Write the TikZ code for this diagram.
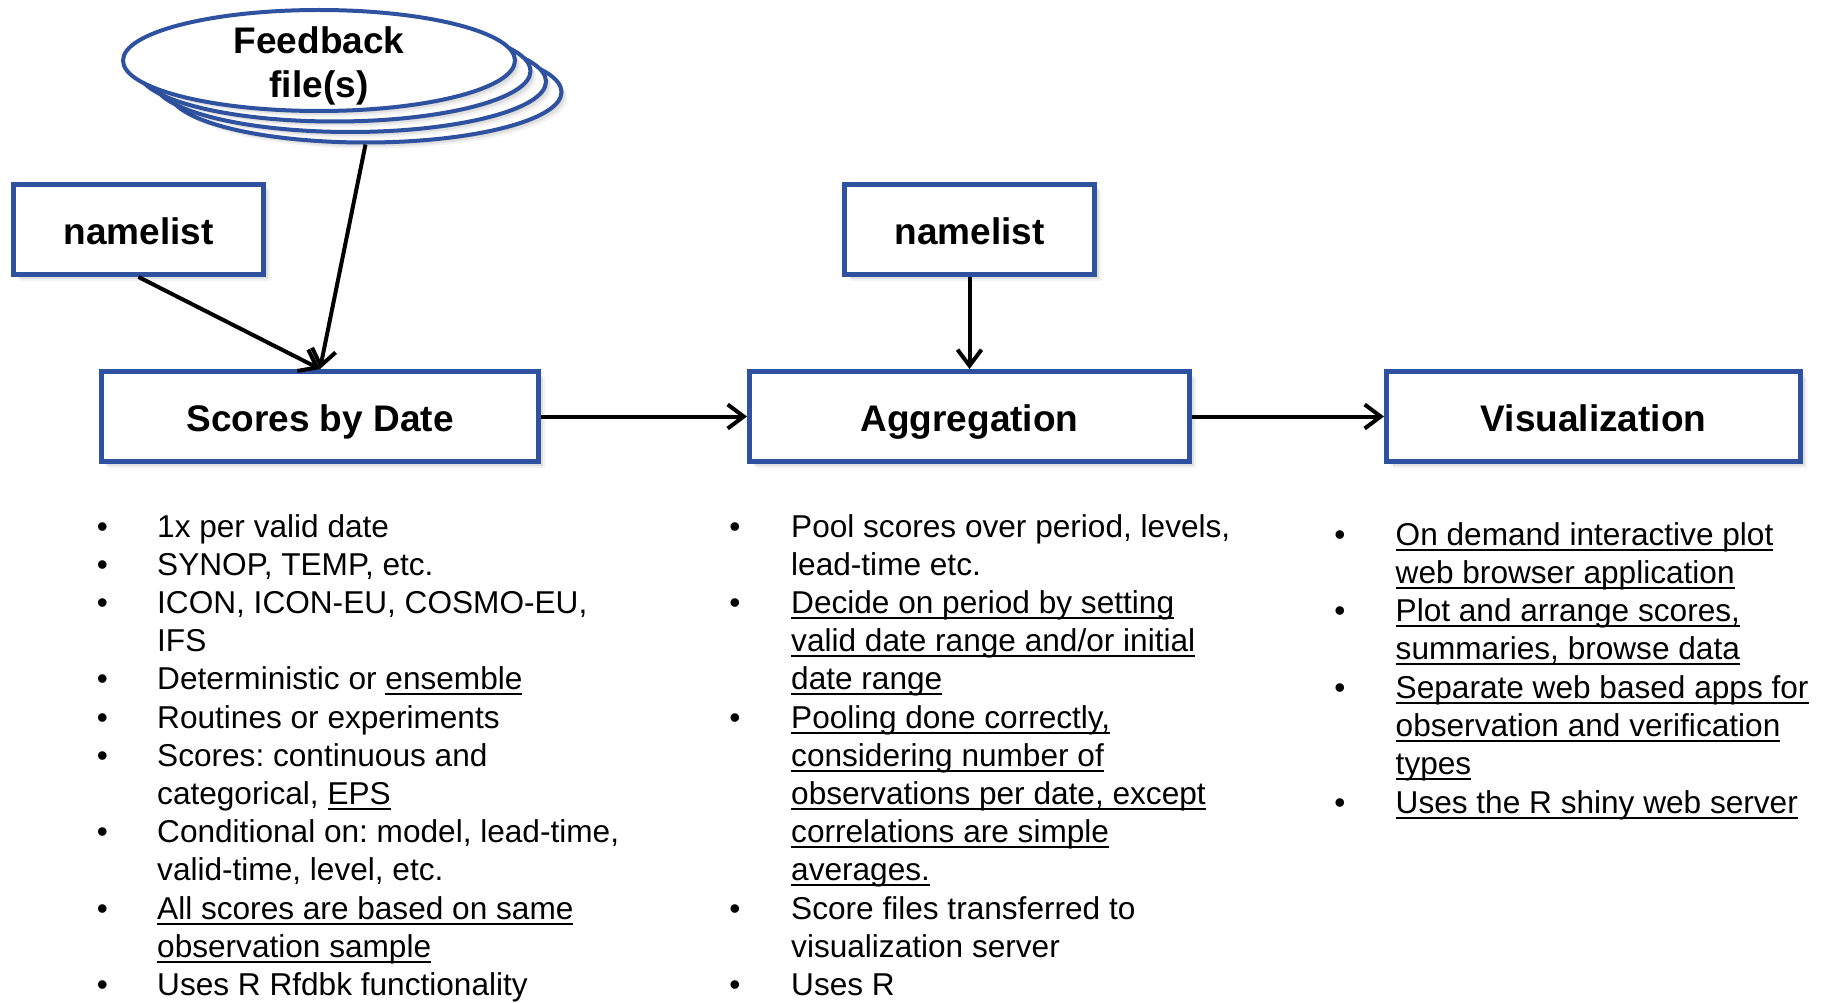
\documentclass[tikz,border=0pt]{standalone}
\usepackage{fontspec}
\setmainfont{Liberation Sans}
\usetikzlibrary{arrows.meta,shapes.geometric,shadows}
\definecolor{boxblue}{RGB}{47,82,160}
\newcommand\ulx[1]{\setbox0\hbox{#1}\rlap{\rule[-5.5pt]{\wd0}{2pt}}\box0}
\newcommand\ttlfont{\fontsize{37}{44}\selectfont\bfseries}
\newcommand\bdyfont{\fontsize{31.6}{38}\selectfont}
\frenchspacing
\begin{document}
\begin{tikzpicture}[x=1pt,y=-1pt,
  softshadow/.style={
    general shadow={shadow xshift=2pt,shadow yshift=-2pt,fill=black,opacity=0.09},
    general shadow={shadow xshift=4pt,shadow yshift=-4pt,fill=black,opacity=0.07},
    general shadow={shadow xshift=6pt,shadow yshift=-6pt,fill=black,opacity=0.05}},
  procbox/.style={rectangle,draw=boxblue,line width=5pt,fill=white,
    minimum height=90pt,inner sep=0pt,font=\ttlfont,
    text height=29pt,text depth=0pt,softshadow},
  fbell/.style={ellipse,draw=boxblue,line width=4pt,fill=white,
    minimum width=392pt,minimum height=101pt,inner sep=0pt,softshadow},
  conn/.style={line width=4pt,-{Straight Barb[length=16pt,width=24pt]}},
  itemtxt/.style={anchor=base west,inner sep=0pt,font=\bdyfont},
  bul/.style={anchor=base,inner sep=0pt,font=\bdyfont}]

\fill[white] (0,0) rectangle (1825,1003);
\useasboundingbox (0,0) rectangle (1825,1003);

% feedback file stack
\node[fbell] (fb3) at (365.5,92) {};
\node[fbell] (fb2) at (350,81.5) {};
\node[fbell] (fb1) at (334.5,71) {};
\node[fbell] (feedback) at (319,60.5) {};
\node[font=\ttlfont,align=center,inner sep=0pt] (fbtext)
  at ([yshift=-5pt]feedback.center) {Feedback\\file(s)};

% boxes
\node[procbox,minimum width=250pt] (nlA) at (138.5,229.5) {namelist};
\node[procbox,minimum width=250pt] (nlB) at (969.5,229.5) {namelist};
\node[procbox,minimum width=437pt] (scores) at (320,416.5) {Scores by Date};
\node[procbox,minimum width=440pt] (agg) at (969.5,416.5) {Aggregation};
\node[procbox,minimum width=414pt] (vis) at (1593.5,416.5) {Visualization};

% connectors
\draw[conn] (nlA.south) -- (scores.north);
\draw[conn] (fb3.south) -- (scores.north);
\draw[conn] (nlB) -- (agg);
\draw[conn] (scores) -- (agg);
\draw[conn] (agg) -- (vis);

% left column
\foreach \t [count=\i] in {{1x per valid date},{SYNOP, TEMP, etc.},
  {ICON, ICON-EU, COSMO-EU,},{IFS},{Deterministic or \ulx{ensemble}},
  {Routines or experiments},{Scores: continuous and},{categorical, \ulx{EPS}},
  {Conditional on: model, lead-time,},{valid-time, level, etc.},
  {\ulx{All scores are based on same}},{\ulx{observation sample}},
  {Uses R Rfdbk functionality}}
  \node[itemtxt] (L\i) at (157,{537+(\i-1)*38.2}) {\t};
\foreach \i in {1,2,3,5,6,7,9,11,13}
  \node[bul] (LB\i) at (102.5,{537+(\i-1)*38.2}) {•};

% middle column
\foreach \t [count=\i] in {{Pool scores over period, levels,},{lead-time etc.},
  {\ulx{Decide on period by setting}},{\ulx{valid date range and/or initial}},
  {\ulx{date range}},{\ulx{Pooling done correctly,}},{\ulx{considering number of}},
  {\ulx{observations per date, except}},{\ulx{correlations are simple}},
  {\ulx{averages.}},{Score files transferred to},{visualization server},{Uses R}}
  \node[itemtxt] (M\i) at (791,{537+(\i-1)*38.2}) {\t};
\foreach \i in {1,3,6,11,13}
  \node[bul] (MB\i) at (735,{537+(\i-1)*38.2}) {•};

% right column
\foreach \t [count=\i] in {{\ulx{On demand interactive plot}},{\ulx{web browser application}},
  {\ulx{Plot and arrange scores,}},{\ulx{summaries, browse data}},
  {\ulx{Separate web based apps for}},{\ulx{observation and verification}},
  {\ulx{types}},{\ulx{Uses the R shiny web server}}}
  \node[itemtxt] (R\i) at (1395.5,{545+(\i-1)*38.3}) {\t};
\foreach \i in {1,3,5,8}
  \node[bul] (RB\i) at (1340,{545+(\i-1)*38.3}) {•};
\end{tikzpicture}
\end{document}
